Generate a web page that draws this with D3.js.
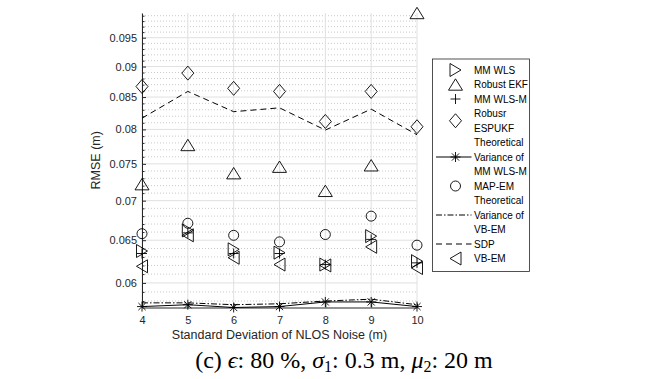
<!DOCTYPE html>
<html>
<head>
<meta charset="utf-8">
<script src="https://cdn.jsdelivr.net/npm/d3@7"></script>
<style>
  body { margin: 0; background: #fff; }
  svg { display: block; }
</style>
</head>
<body>
<div id="chart"></div>
<script>
// values
const noiseStd = [4, 5, 6, 7, 8, 9, 10];
const mmWls      = [0.0637, 0.0662, 0.0639, 0.0635, 0.0621, 0.0655, 0.0625];
const robustEkf  = [0.0722, 0.0777, 0.0737, 0.0746, 0.0713, 0.0748, 0.0995];
const mmWlsM     = [0.0634, 0.0659, 0.0634, 0.0634, 0.0621, 0.0651, 0.0623];
const espukf     = [0.0867, 0.0889, 0.0864, 0.0859, 0.0812, 0.0859, 0.0804];
const theoMmWlsM = [0.0574, 0.0576, 0.0573, 0.0574, 0.0579, 0.0579, 0.0574];
const mapEm      = [0.0658, 0.0671, 0.0656, 0.0648, 0.0657, 0.0680, 0.0644];
const theoVbEm   = [0.0578, 0.0578, 0.0576, 0.0577, 0.0580, 0.0582, 0.0576];
const sdp        = [0.0817, 0.0859, 0.0827, 0.0833, 0.0799, 0.0831, 0.0792];
const vbEm       = [0.0619, 0.0656, 0.0629, 0.0621, 0.0620, 0.0642, 0.0617];

const yTicks = [0.06, 0.065, 0.07, 0.075, 0.08, 0.085, 0.09, 0.095];
const yTickLabels = ["0.06", "0.065", "0.07", "0.075", "0.08", "0.085", "0.09", "0.095"];

const W = 647, H = 379;
const plotLeft = 142, plotRight = 417, plotTop = 13, plotBottom = 307.5;

const svg = d3.select("#chart").append("svg")
    .attr("width", W)
    .attr("height", H);

const x = d3.scaleLinear().domain([4, 10]).range([plotLeft, plotRight]);
const y = d3.scaleLog().domain([0.0573, 0.0995]).range([plotBottom, plotTop]);

// minor ticks every 0.001 on the log axis
const yMinor = d3.range(58, 100).map(d => d / 1000)
    .filter(v => !yTicks.some(t => Math.abs(t - v) < 1e-9));

// grid
const grid = svg.append("g");
grid.selectAll(".minor").data(yMinor).enter().append("line")
    .attr("x1", plotLeft).attr("x2", plotRight)
    .attr("y1", d => y(d)).attr("y2", d => y(d))
    .attr("stroke", "#bdbdbd").attr("stroke-width", 0.8)
    .attr("stroke-dasharray", "1,2");
grid.selectAll(".major").data(yTicks).enter().append("line")
    .attr("x1", plotLeft).attr("x2", plotRight)
    .attr("y1", d => y(d)).attr("y2", d => y(d))
    .attr("stroke", "#e0e0e0").attr("stroke-width", 1);
grid.selectAll(".vert").data(noiseStd).enter().append("line")
    .attr("x1", d => x(d)).attr("x2", d => x(d))
    .attr("y1", plotTop).attr("y2", plotBottom)
    .attr("stroke", "#e0e0e0").attr("stroke-width", 1);

// axes
svg.append("g")
    .attr("transform", "translate(" + plotLeft + ",0)")
    .call(d3.axisLeft(y).tickValues(yTicks)
        .tickFormat((d, i) => yTickLabels[i])
        .tickSize(-4).tickSizeOuter(0).tickPadding(5));
svg.append("g")
    .attr("transform", "translate(" + plotLeft + ",0)")
    .call(d3.axisLeft(y).tickValues(yMinor).tickFormat("")
        .tickSize(-2.5).tickSizeOuter(0))
    .select(".domain").remove();

svg.append("g")
    .attr("transform", "translate(0," + plotBottom + ")")
    .call(d3.axisBottom(x).tickValues(noiseStd).tickFormat(d3.format("d"))
        .tickSize(-4).tickSizeOuter(0).tickPadding(9));

svg.selectAll(".domain, .tick line").attr("stroke", "#262626");
svg.selectAll(".tick text")
    .attr("fill", "#262626")
    .style("font-family", "'Liberation Sans', Arial, sans-serif")
    .style("font-size", "11px");

svg.append("text")
    .attr("transform", "translate(100," + ((plotTop + plotBottom) / 2) + ") rotate(-90)")
    .attr("text-anchor", "middle")
    .attr("fill", "#262626")
    .style("font-family", "'Liberation Sans', Arial, sans-serif")
    .style("font-size", "12.5px")
    .text("RMSE (m)");

svg.append("text")
    .attr("x", (plotLeft + plotRight) / 2).attr("y", 339)
    .attr("text-anchor", "middle")
    .attr("fill", "#262626")
    .style("font-family", "'Liberation Sans', Arial, sans-serif")
    .style("font-size", "12.5px")
    .text("Standard Deviation of NLOS Noise (m)");

// marker shapes
const markers = {
    tright: "M-5.5,-6.5L5.5,0L-5.5,6.5Z",
    tleft: "M5.5,-6.5L-5.5,0L5.5,6.5Z",
    tup: "M0,-5.7L7,5.7L-7,5.7Z",
    diamond: "M0,-7L6,0L0,7L-6,0Z",
    plus: "M-5,0L5,0M0,-5L0,5",
    star: "M-5,0L5,0M0,-5L0,5M-3.6,-3.6L3.6,3.6M-3.6,3.6L3.6,-3.6"
};

function drawMarkers(vals, shape) {
    const g = svg.append("g");
    if (shape === "circle") {
        g.selectAll("circle").data(vals).enter().append("circle")
            .attr("cx", (d, i) => x(noiseStd[i]))
            .attr("cy", d => y(d))
            .attr("r", 5)
            .attr("fill", "none").attr("stroke", "#000").attr("stroke-width", 0.9);
    } else {
        g.selectAll("path").data(vals).enter().append("path")
            .attr("transform", (d, i) => "translate(" + x(noiseStd[i]) + "," + y(d) + ")")
            .attr("d", markers[shape])
            .attr("fill", "none").attr("stroke", "#000").attr("stroke-width", 0.9);
    }
}

function drawLine(vals, dash) {
    const line = d3.line()
        .x((d, i) => x(noiseStd[i]))
        .y(d => y(d));
    svg.append("path")
        .datum(vals)
        .attr("d", line)
        .attr("fill", "none")
        .attr("stroke", "#000")
        .attr("stroke-width", 1)
        .attr("stroke-dasharray", dash);
}

drawLine(sdp, "6,4");
drawLine(theoVbEm, "6,2,1.5,2");
drawLine(theoMmWlsM, null);
drawMarkers(theoMmWlsM, "star");
drawMarkers(mmWls, "tright");
drawMarkers(robustEkf, "tup");
drawMarkers(mmWlsM, "plus");
drawMarkers(espukf, "diamond");
drawMarkers(mapEm, "circle");
drawMarkers(vbEm, "tleft");

// legend
const legendLines = [
    ["MM WLS"], ["Robust EKF"], ["MM WLS-M"], ["Robusr", "ESPUKF"],
    ["Theoretical", "Variance of", "MM WLS-M"], ["MAP-EM"],
    ["Theoretical", "Variance of", "VB-EM"], ["SDP"], ["VB-EM"]
];
const legendKeys = ["tright", "tup", "plus", "diamond", "starline", "circle", "dashdot", "dash", "tleft"];

const lg = svg.append("g");
lg.append("rect")
    .attr("x", 432.5).attr("y", 59)
    .attr("width", 97).attr("height", 212.5)
    .attr("fill", "#fff").attr("stroke", "#262626").attr("stroke-width", 0.8);

const rowH = 14.5, row0 = 70, symX = 455.5, textX = 474;
let row = 0;
legendLines.forEach((lines, k) => {
    const cy = row0 + (row + (lines.length - 1) / 2) * rowH;
    lines.forEach((t, j) => {
        lg.append("text")
            .attr("x", textX).attr("y", row0 + (row + j) * rowH)
            .attr("dy", "0.35em")
            .attr("fill", "#000")
            .style("font-family", "'Liberation Sans', Arial, sans-serif")
            .style("font-size", "10px")
            .text(t);
    });
    const key = legendKeys[k];
    const sg = lg.append("g").attr("transform", "translate(" + symX + "," + cy + ")");
    if (key === "starline" || key === "dashdot" || key === "dash") {
        sg.append("line").attr("x1", -19.5).attr("x2", 16).attr("y1", 0).attr("y2", 0)
            .attr("stroke", "#000").attr("stroke-width", 1)
            .attr("stroke-dasharray", key === "dash" ? "6,4" : key === "dashdot" ? "6,2,1.5,2" : null);
        if (key === "starline") {
            sg.append("path").attr("d", markers.star)
                .attr("fill", "none").attr("stroke", "#000").attr("stroke-width", 0.9);
        }
    } else if (key === "circle") {
        sg.append("circle").attr("r", 5)
            .attr("fill", "none").attr("stroke", "#000").attr("stroke-width", 0.9);
    } else {
        sg.append("path").attr("d", markers[key])
            .attr("fill", "none").attr("stroke", "#000").attr("stroke-width", 0.9);
    }
    row += lines.length;
});

// caption
const cap = svg.append("text")
    .attr("x", 344).attr("y", 368)
    .attr("text-anchor", "middle")
    .attr("fill", "#000")
    .style("font-family", "'Liberation Serif', 'Times New Roman', serif")
    .style("font-size", "24px");
cap.append("tspan").text("(c) ");
cap.append("tspan").style("font-style", "italic").text("\u03F5");
cap.append("tspan").text(": 80 %, ");
cap.append("tspan").style("font-style", "italic").text("\u03C3");
cap.append("tspan").style("font-size", "16px").attr("dy", 4).text("1");
cap.append("tspan").attr("dy", -4).text(": 0.3 m, ");
cap.append("tspan").style("font-style", "italic").text("\u03BC");
cap.append("tspan").style("font-size", "16px").attr("dy", 4).text("2");
cap.append("tspan").attr("dy", -4).text(": 20 m");
</script>
</body>
</html>
